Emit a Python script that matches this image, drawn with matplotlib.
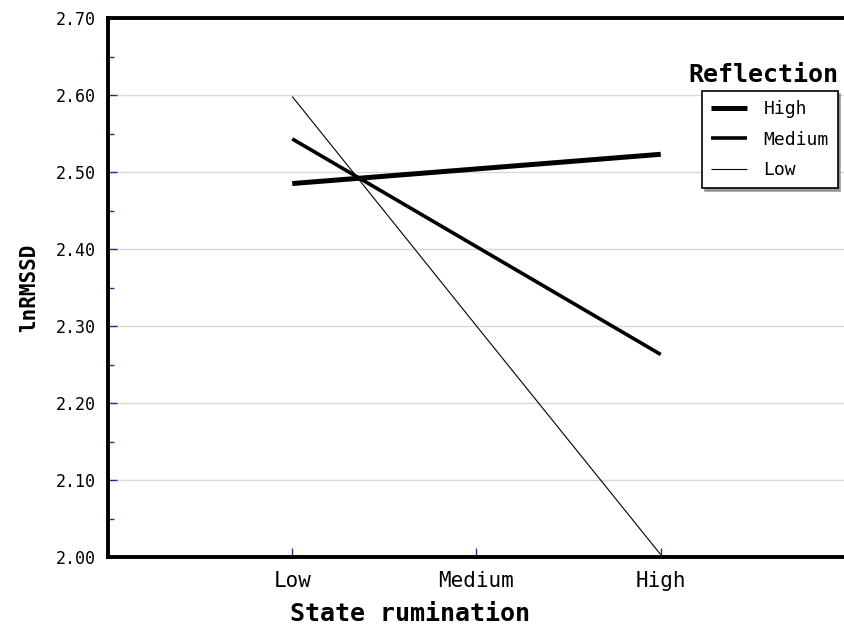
import matplotlib
matplotlib.use("Agg")
import matplotlib.pyplot as plt
from matplotlib.ticker import MultipleLocator

categories = ["Low", "Medium", "High"]
series_names = ["High", "Medium", "Low"]
high_vals = [2.485, 2.504, 2.523]
medium_vals = [2.543, 2.403, 2.263]
low_vals = [2.598, 2.300, 2.003]
yticks = [2.00, 2.10, 2.20, 2.30, 2.40, 2.50, 2.60, 2.70]

plt.rcParams['font.family'] = ['DejaVu Sans Mono']

fig = plt.figure(figsize=(8.45, 6.28), dpi=100)
ax = fig.add_axes([108/845, 1-557/628, 1-108/845, (557-18)/628])

x = [1, 2, 3]
ax.plot(x, high_vals, color='black', lw=3.6, label=series_names[0], solid_capstyle='butt')
ax.plot(x, medium_vals, color='black', lw=2.6, label=series_names[1], solid_capstyle='butt')
ax.plot(x, low_vals, color='black', lw=0.8, label=series_names[2], solid_capstyle='butt')

ax.set_xlim(0, 4)
ax.set_ylim(2.0, 2.7)
ax.set_xticks(x)
ax.set_xticklabels(categories, fontsize=15)
ax.set_yticks(yticks)
ax.set_yticklabels([f"{v:.2f}" for v in yticks], fontsize=12)
ax.yaxis.set_minor_locator(MultipleLocator(0.05))
ax.tick_params(axis='both', which='major', direction='in', color='#2a2a90', length=6.5, width=1.0, pad=9)
ax.tick_params(axis='y', which='minor', direction='in', color='#2a2a90', length=4.5, width=1.0)
ax.tick_params(axis='x', pad=10)
for v in yticks[1:-1]:
    ax.axhline(v, color='#d8d8d8', lw=1.0, zorder=0)

for s in ['left', 'bottom', 'top']:
    ax.spines[s].set_linewidth(2.8)
ax.spines['right'].set_visible(False)

ax.set_xlabel("State rumination", fontsize=18, fontweight='bold')
ax.xaxis.set_label_coords((410-108)/737, (557-614)/539)
ax.xaxis.label.set_va('center')
ax.set_ylabel("lnRMSSD", fontsize=15, fontweight='bold', labelpad=12)

leg = ax.legend(loc='upper left', bbox_to_anchor=(702/845, 1-91/628), bbox_transform=fig.transFigure,
                fontsize=13, frameon=True, fancybox=False, shadow={'color': '#888888', 'alpha': 0.8},
                edgecolor='black', handlelength=2.0, borderpad=0.5, labelspacing=0.7, handletextpad=0.9,
                borderaxespad=0)
leg.get_frame().set_linewidth(1.2)
fig.text(763/845, 1-75/628, "Reflection", fontsize=18, fontweight='bold', ha='center', va='center')

fig.savefig("out.png", dpi=100)
